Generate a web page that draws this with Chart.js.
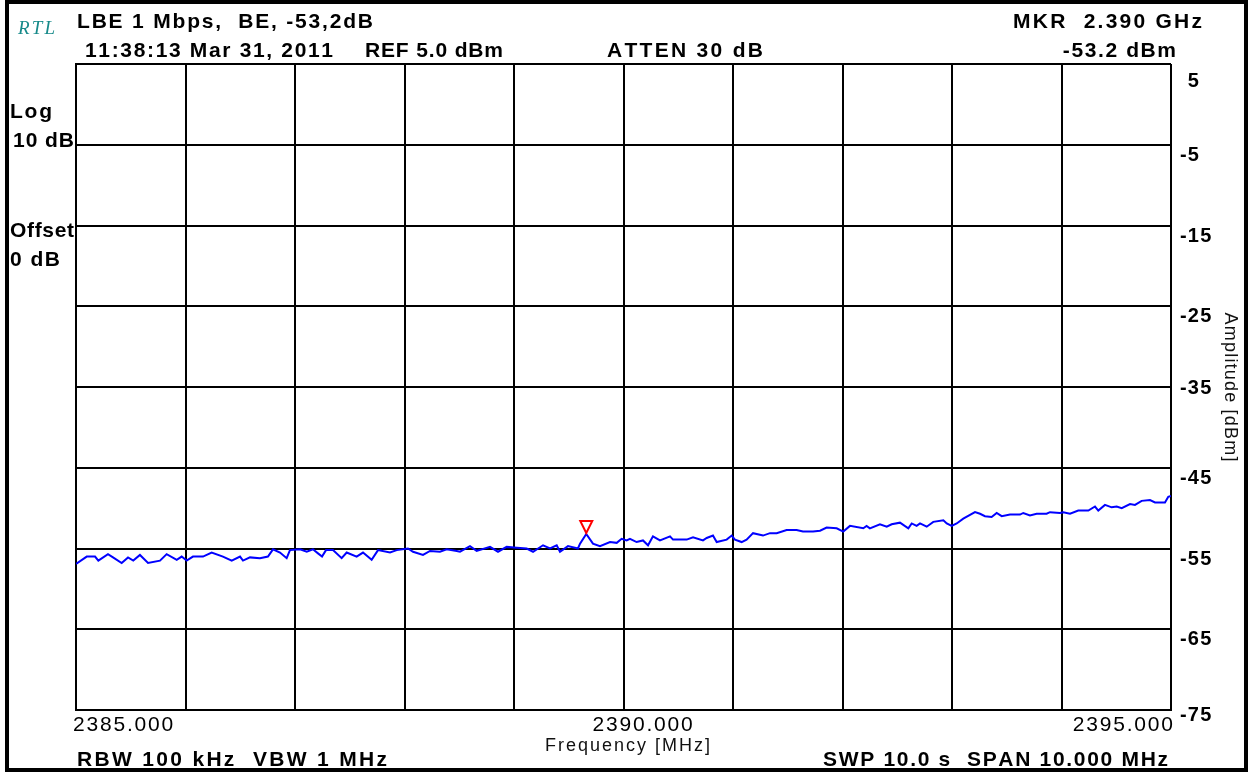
<!DOCTYPE html>
<html>
<head>
<meta charset="utf-8">
<title>LBE 1 Mbps BE</title>
<script src="https://cdn.jsdelivr.net/npm/chart.js@4.4.1/dist/chart.umd.min.js"></script>
<style>
  html, body { margin: 0; padding: 0; background: #fff; }
  canvas { display: block; }
</style>
</head>
<body>
<canvas id="spektrum" width="1249" height="772"></canvas>
<script>
// Trace dari analyzer: frekuensi (MHz) dan level (dBm)
var freqMHz = [
  2385.000, 2385.098, 2385.174, 2385.204, 2385.292, 2385.338, 2385.417, 2385.475, 2385.523, 2385.584,
  2385.658, 2385.767, 2385.828, 2385.920, 2385.965, 2386.011, 2386.068, 2386.160, 2386.239, 2386.342,
  2386.422, 2386.498, 2386.525, 2386.589, 2386.680, 2386.753, 2386.799, 2386.863, 2386.924, 2386.954,
  2387.046, 2387.107, 2387.164, 2387.210, 2387.247, 2387.283, 2387.347, 2387.426, 2387.472, 2387.563,
  2387.621, 2387.700, 2387.758, 2387.868, 2387.929, 2388.032, 2388.078, 2388.169, 2388.233, 2388.324,
  2388.385, 2388.477, 2388.507, 2388.598, 2388.659, 2388.781, 2388.854, 2388.933, 2389.025, 2389.116,
  2389.174, 2389.265, 2389.329, 2389.390, 2389.420, 2389.493, 2389.584, 2389.603, 2389.660, 2389.721,
  2389.785, 2389.877, 2389.938, 2389.983, 2390.029, 2390.059, 2390.120, 2390.178, 2390.224, 2390.269,
  2390.333, 2390.425, 2390.452, 2390.577, 2390.635, 2390.726, 2390.760, 2390.817, 2390.851, 2390.942,
  2390.988, 2391.018, 2391.079, 2391.124, 2391.183, 2391.274, 2391.338, 2391.399, 2391.490, 2391.581,
  2391.639, 2391.731, 2391.795, 2391.855, 2391.947, 2392.007, 2392.068, 2392.190, 2392.220, 2392.250,
  2392.342, 2392.404, 2392.449, 2392.525, 2392.601, 2392.632, 2392.677, 2392.708, 2392.769, 2392.829,
  2392.921, 2392.952, 2392.997, 2393.043, 2393.103, 2393.210, 2393.256, 2393.301, 2393.362, 2393.408,
  2393.454, 2393.530, 2393.621, 2393.651, 2393.712, 2393.773, 2393.864, 2393.895, 2393.986, 2394.016,
  2394.078, 2394.153, 2394.245, 2394.306, 2394.336, 2394.397, 2394.458, 2394.504, 2394.550, 2394.626,
  2394.671, 2394.732, 2394.808, 2394.854, 2394.945, 2394.975, 2395.000
];
var levelDbm = [
  -56.9, -56.0, -56.0, -56.5, -55.7, -56.1, -56.8, -56.1, -56.5, -55.8,
  -56.8, -56.5, -55.7, -56.4, -56.0, -56.5, -56.0, -56.0, -55.5, -56.0,
  -56.5, -56.0, -56.5, -56.1, -56.2, -56.0, -55.1, -55.5, -56.2, -55.2,
  -55.1, -55.4, -55.1, -55.6, -56.0, -55.2, -55.2, -56.2, -55.5, -56.0,
  -55.5, -56.4, -55.2, -55.5, -55.2, -55.0, -55.4, -55.8, -55.3, -55.4,
  -55.1, -55.3, -55.4, -54.7, -55.3, -54.8, -55.4, -54.8, -54.9, -55.0,
  -55.4, -54.6, -55.0, -54.6, -55.4, -54.7, -55.0, -54.4, -53.2, -54.4,
  -54.7, -54.2, -54.3, -53.8, -54.0, -53.8, -54.2, -54.0, -54.6, -53.5,
  -54.0, -53.5, -53.9, -53.9, -53.6, -54.0, -53.7, -53.4, -54.2, -53.9,
  -53.4, -53.9, -54.2, -53.9, -53.1, -53.4, -53.1, -53.1, -52.7, -52.7,
  -52.9, -52.9, -52.8, -52.4, -52.5, -52.9, -52.2, -52.5, -52.2, -52.5,
  -52.0, -52.3, -52.0, -51.8, -52.5, -51.9, -52.2, -51.9, -52.3, -51.7,
  -51.5, -51.9, -52.2, -51.9, -51.3, -50.5, -50.7, -51.0, -51.1, -50.6,
  -51.0, -50.8, -50.8, -50.6, -50.9, -50.7, -50.7, -50.5, -50.6, -50.5,
  -50.7, -50.3, -50.3, -49.8, -50.3, -49.6, -49.9, -49.8, -50.0, -49.5,
  -49.6, -49.1, -49.0, -49.3, -49.3, -48.6, -48.5
];

// marker
var markerFreq = 2389.66;
var markerLevel = -53.2;

// label sumbu
var xTickValues = [2385, 2390, 2395];
var xTickLabels = ['2385.000', '2390.000', '2395.000'];
var yTickValues = [5, -5, -15, -25, -35, -45, -55, -65, -75];
var yTickLabels = ['5', '-5', '-15', '-25', '-35', '-45', '-55', '-65', '-75'];

// teks header / footer
var judul = 'LBE 1 Mbps,  BE, -53,2dB';
var waktu = '11:38:13 Mar 31, 2011';
var refLevel = 'REF 5.0 dBm';
var atten = 'ATTEN 30 dB';
var mkrFreqText = 'MKR  2.390 GHz';
var mkrLevelText = '-53.2 dBm';
var rbwText = 'RBW 100 kHz  VBW 1 MHz';
var swpText = 'SWP 10.0 s  SPAN 10.000 MHz';

var SANS = '"Liberation Sans", Arial, sans-serif';

// gambar teks huruf per huruf dengan jarak tambahan
function tulisSpasi(ctx, text, x, y, spasi, align) {
  var chars = Array.from(text);
  var w = 0;
  chars.forEach(function (c) { w += ctx.measureText(c).width; });
  w += spasi * (chars.length - 1);
  var mulai = align === 'right' ? x - w : (align === 'center' ? x - w / 2 : x);
  ctx.textAlign = 'left';
  chars.forEach(function (c) {
    ctx.fillText(c, mulai, y);
    mulai += ctx.measureText(c).width + spasi;
  });
}

// teks yang direntangkan dari x0 sampai x1
function tulisRentang(ctx, text, x0, x1, y) {
  var chars = Array.from(text);
  var w = 0;
  chars.forEach(function (c) { w += ctx.measureText(c).width; });
  var spasi = chars.length > 1 ? (x1 - x0 - w) / (chars.length - 1) : 0;
  tulisSpasi(ctx, text, x0, y, spasi, 'left');
}

var markerPlugin = {
  id: 'markerSegitiga',
  afterDatasetsDraw: function (chart) {
    var ctx = chart.ctx;
    var px = chart.scales.x.getPixelForValue(markerFreq);
    var py = chart.scales.y.getPixelForValue(markerLevel);
    ctx.save();
    ctx.strokeStyle = '#ff0000';
    ctx.lineWidth = 2;
    ctx.beginPath();
    ctx.moveTo(px - 6, py - 13);
    ctx.lineTo(px + 6, py - 13);
    ctx.lineTo(px, py - 1);
    ctx.closePath();
    ctx.stroke();
    ctx.restore();
  }
};

var teksPlugin = {
  id: 'teksAnalyzer',
  afterDraw: function (chart) {
    var ctx = chart.ctx;
    var xs = chart.scales.x;
    var ys = chart.scales.y;
    var area = chart.chartArea;
    ctx.save();
    ctx.fillStyle = '#000';
    ctx.textBaseline = 'alphabetic';

    // header
    ctx.font = 'bold 21px ' + SANS;
    tulisRentang(ctx, judul, 77, 373, 28);
    tulisRentang(ctx, waktu, 85, 333, 57);
    tulisRentang(ctx, refLevel, 365, 503, 57);
    tulisRentang(ctx, atten, 607, 763, 57);
    tulisRentang(ctx, mkrFreqText, 1013, 1202, 28);
    tulisSpasi(ctx, mkrLevelText, 1176, 57, 1.6, 'right');

    // kiri
    tulisRentang(ctx, 'Log', 10, 52, 118);
    tulisRentang(ctx, '10 dB', 13, 74, 147);
    tulisRentang(ctx, 'Offset', 10, 74, 237);
    tulisRentang(ctx, '0 dB', 10, 60, 266);

    // footer
    tulisRentang(ctx, rbwText, 77, 387, 766);
    tulisRentang(ctx, swpText, 823, 1168, 766);

    // logo
    ctx.font = 'italic 19px "Liberation Serif", serif';
    ctx.fillStyle = '#178a8a';
    tulisRentang(ctx, 'RTL', 18, 55, 34);
    ctx.fillStyle = '#000';

    // label sumbu y (kanan)
    ctx.font = 'bold 20px ' + SANS;
    var lebarMinus = ctx.measureText('-').width + 1.2;
    yTickValues.forEach(function (v, i) {
      var py = ys.getPixelForValue(v);
      var geser = 9;
      if (i === 0) geser = 16;
      if (v === -35) geser = 0;
      if (i === yTickValues.length - 1) geser = 4;
      var x = area.right + 9 + (v >= 0 ? lebarMinus : 0);
      tulisSpasi(ctx, yTickLabels[i], x, py + geser + 7, 1.2, 'left');
    });

    // label sumbu x
    ctx.font = '21px ' + SANS;
    xTickValues.forEach(function (v, i) {
      var px = xs.getPixelForValue(v);
      if (i === 0) tulisSpasi(ctx, xTickLabels[i], px - 3, 731, 1.8, 'left');
      else if (i === xTickValues.length - 1) tulisSpasi(ctx, xTickLabels[i], px + 2, 731, 1.8, 'right');
      else tulisSpasi(ctx, xTickLabels[i], px - 31, 731, 1.8, 'left');
    });

    // judul sumbu
    ctx.font = '18px ' + SANS;
    ctx.fillStyle = '#111';
    tulisRentang(ctx, 'Frequency [MHz]', 545, 710, 751);
    ctx.save();
    ctx.translate(1225, 387);
    ctx.rotate(Math.PI / 2);
    tulisSpasi(ctx, 'Amplitude [dBm]', 0, 0, 1.2, 'center');
    ctx.restore();

    // bingkai luar
    ctx.strokeStyle = '#000';
    ctx.lineWidth = 4;
    ctx.strokeRect(7, 2, 1239, 768);
    ctx.restore();
  }
};

var canvas = document.getElementById('spektrum');

var config = {
  type: 'line',
  data: {
    datasets: [{
      label: 'Trace',
      data: freqMHz.map(function (f, i) { return { x: f, y: levelDbm[i] }; }),
      borderColor: '#0000ff',
      borderWidth: 2,
      pointRadius: 0,
      tension: 0,
      fill: false
    }]
  },
  options: {
    responsive: false,
    animation: false,
    devicePixelRatio: 1,
    layout: {
      padding: { left: 76, top: 64, right: 78, bottom: 62 }
    },
    plugins: {
      legend: { display: false },
      tooltip: { enabled: false }
    },
    scales: {
      x: {
        type: 'linear',
        min: 2385,
        max: 2395,
        ticks: { display: false, stepSize: 1 },
        grid: { color: '#000', lineWidth: 2, drawTicks: false },
        border: { color: '#000', width: 2 }
      },
      y: {
        min: -75,
        max: 5,
        ticks: { display: false, stepSize: 10 },
        grid: { color: '#000', lineWidth: 2, drawTicks: false },
        border: { color: '#000', width: 2 }
      }
    }
  },
  plugins: [markerPlugin, teksPlugin]
};

var grafik = new Chart(canvas, config);
</script>
</body>
</html>
